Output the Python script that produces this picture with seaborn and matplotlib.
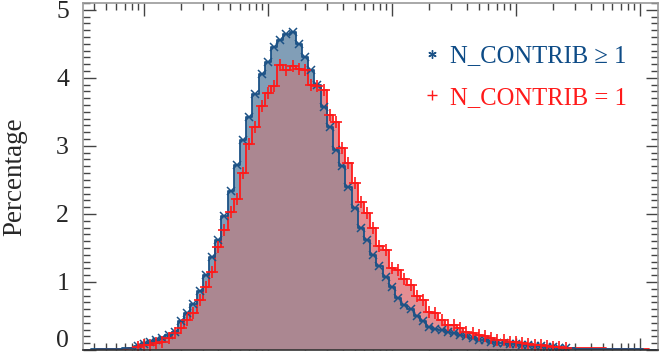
import numpy as np
import pandas as pd
import matplotlib
matplotlib.use("Agg")
import matplotlib.pyplot as plt
import matplotlib.transforms as mtransforms
from matplotlib.lines import Line2D
from matplotlib.ticker import MultipleLocator, LogLocator, NullFormatter, FuncFormatter
import seaborn as sns

# -------------------- Data --------------------
# bin centres in log10 units (20 bins per decade)
log_centers = np.arange(-29, 63) * 0.05

# percentage per bin, N_CONTRIB >= 1
pct_all = [
    0.005, 0.01, 0.01, 0.01, 0.015, 0.02, 0.025, 0.03, 0.06, 0.09, 0.12,
    0.15, 0.17, 0.22, 0.27, 0.42, 0.54, 0.68, 0.86, 1.10, 1.36, 1.62, 1.97, 2.34, 2.72,
    3.08, 3.42, 3.76, 4.06, 4.24, 4.46, 4.55, 4.64, 4.67, 4.50, 4.31, 4.12, 3.90, 3.57, 3.28, 2.94, 2.70,
    2.40, 2.08, 1.79, 1.61, 1.40, 1.23, 1.07, 0.93, 0.76, 0.66,
    0.60, 0.50, 0.43, 0.34, 0.31, 0.29, 0.26, 0.245, 0.22, 0.21, 0.17, 0.15, 0.14, 0.12, 0.11,
    0.11, 0.09, 0.09, 0.08, 0.07, 0.065, 0.06, 0.05, 0.04, 0.035, 0.035,
    0.025, 0.02, 0.02, 0.02, 0.015, 0.015, 0.015, 0.01, 0.01, 0.01, 0.01, 0.008, 0.006, 0.005,
]

# percentage per bin, N_CONTRIB = 1
pct_one = [
    0.003, 0.005, 0.008, 0.01, 0.01, 0.015, 0.02, 0.03, 0.05, 0.07, 0.08,
    0.10, 0.12, 0.17, 0.245, 0.32, 0.44, 0.54, 0.73, 0.93, 1.14, 1.52, 1.76, 2.03, 2.22,
    2.60, 3.03, 3.28, 3.58, 3.77, 3.88, 4.19, 4.11, 4.18, 4.13, 4.11, 3.90, 3.88, 3.82, 3.46, 3.35, 2.97, 2.75,
    2.46, 2.18, 2.01, 1.79, 1.53, 1.47, 1.20, 1.18, 1.05,
    0.96, 0.80, 0.73, 0.56, 0.54, 0.44, 0.37, 0.37, 0.32, 0.27, 0.245, 0.22, 0.21, 0.17, 0.15,
    0.14, 0.12, 0.12, 0.11, 0.09, 0.08, 0.07, 0.06, 0.05, 0.045, 0.035,
    0.03, 0.03, 0.03, 0.03, 0.03, 0.025, 0.02, 0.02, 0.02, 0.015, 0.015, 0.01, 0.008, 0.005,
]

labels = ["N_CONTRIB \u2265 1", "N_CONTRIB = 1"]

BLUE = "#1c5286"
BLUE_TXT = "#0d4b86"
RED = "#ff1a1a"
# shaded areas: only-blue, only-red and where both overlap
FILL_BLUE = "#819eb7"
FILL_RED = "#e48e93"
FILL_BOTH = "#ab8791"

# -------------------- Plot --------------------
sns.set_style("ticks")
plt.rcParams["font.family"] = ["Liberation Serif", "DejaVu Serif"]

df = pd.DataFrame({"center": 10 ** log_centers,
                   "all": pct_all, "one": pct_one})
df["both"] = np.minimum(df["all"], df["one"])
bin_w = 0.05
bin_range = (log_centers[0] - bin_w / 2, log_centers[-1] + bin_w / 2)
hist_kw = dict(data=df, x="center", binwidth=bin_w, binrange=bin_range,
               log_scale=True, element="step")

fig = plt.figure(figsize=(6.64, 3.53), dpi=100)
ax = fig.add_axes([83 / 664, 3 / 353, 575 / 664, 347 / 353])

# filled areas
for col, fc in [("all", FILL_BLUE), ("one", FILL_RED), ("both", FILL_BOTH)]:
    sns.histplot(weights=col, fill=True, color=fc, alpha=1, linewidth=0,
                 ax=ax, **hist_kw)

# step outlines
sns.histplot(weights="one", fill=False, color=RED, linewidth=1.3, ax=ax, **hist_kw)
sns.histplot(weights="all", fill=False, color=BLUE, linewidth=1.3, ax=ax, **hist_kw)

m_all = df[df["all"] > 0.03]
m_one = df[df["one"] > 0.03]
ax.plot(m_all["center"], m_all["all"], linestyle="none", marker="x",
        markersize=6, markeredgewidth=1.1, color=BLUE)
ax.plot(m_one["center"], m_one["one"], linestyle="none", marker="+",
        markersize=8, markeredgewidth=1.2, color=RED)

ax.set_xlim(10 ** -1.49, 10 ** 3.145)
ax.set_ylim(0, 5.1)
ax.set_xlabel("")
ax.set_ylabel("Percentage", fontsize=19.5, labelpad=21)

ax.yaxis.set_major_locator(MultipleLocator(1))
ax.yaxis.set_minor_locator(MultipleLocator(0.1))
# "0" sits on the frame edge, so it is drawn separately, lifted above the edge
ax.yaxis.set_major_formatter(FuncFormatter(lambda v, p: "" if v == 0 else f"{v:g}"))
ax.xaxis.set_minor_locator(LogLocator(base=10, subs=np.arange(2, 10)))
ax.xaxis.set_major_formatter(NullFormatter())
ax.xaxis.set_minor_formatter(NullFormatter())

ax.tick_params(which="both", direction="in", top=True, right=True,
               color="#444444", width=1)
ax.tick_params(which="major", length=9)
ax.tick_params(which="minor", length=5)
ax.tick_params(axis="y", which="major", labelsize=18.5, pad=10)
for s in ax.spines.values():
    s.set_color("#999999")
    s.set_linewidth(1.2)
ax.spines["bottom"].set_color("#333333")

zero_tr = mtransforms.offset_copy(ax.get_yaxis_transform(), fig=fig, x=-10, y=-1.5, units="points")
ax.text(0, 0, "0", transform=zero_tr, ha="right", va="bottom", fontsize=18.5)

handles = [
    Line2D([], [], linestyle="none", marker=(6, 2, 0), markersize=6,
           markeredgewidth=1, color=BLUE),
    Line2D([], [], linestyle="none", marker="+", markersize=7,
           markeredgewidth=1, color=RED),
]
leg = ax.legend(handles, labels, loc="upper left",
                bbox_to_anchor=(422 / 664, 1 - 45 / 353),
                bbox_transform=fig.transFigure, frameon=False,
                fontsize=17.7, handlelength=0.8, handletextpad=0.35,
                labelspacing=0.8, borderpad=0, borderaxespad=0)
for t, c in zip(leg.get_texts(), [BLUE_TXT, RED]):
    t.set_color(c)

fig.savefig("out.png", dpi=100)
